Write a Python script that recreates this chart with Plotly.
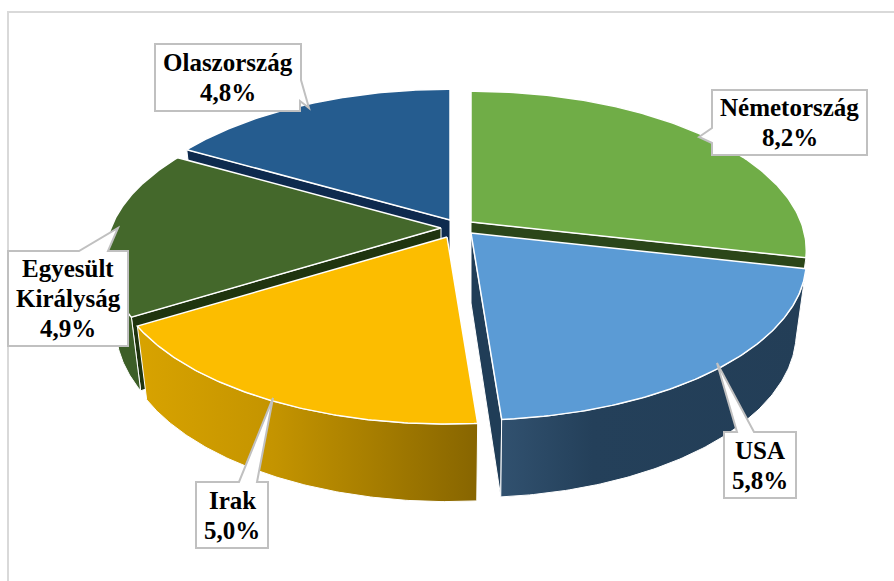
import numpy as np
import plotly.graph_objects as go

# --- data ---
countries = ["Németország", "USA", "Irak", "Egyesült Királyság", "Olaszország"]
shares = [8.2, 5.8, 5.0, 4.9, 4.8]

# --- styles ---
top_colors = ["#70ad47", "#5b9bd5", "#fcbd00", "#44682b", "#255c8f"]
wall_scales = [
    None,
    [[0, "#31516f"], [0.3, "#24405a"], [1, "#233e57"]],
    [[0, "#d8a300"], [0.4, "#c49400"], [0.7, "#a67d00"], [1, "#876500"]],
    [[0, "#3c5e27"], [1, "#3c5e27"]],
    None,
]
cut_colors = ["#2b4619", "#203d57", None, "#1f340f", "#0e2a4e"]
# which cut face is visible: 'end' / 'start' / None
cut_sides = ["end", "end", None, "start", "start"]
apex_x = [471, 471, 447, 441, 450]
apex_y = [222, 233, 237, 228, 220]
# which slices are painted in what order (back to front)
paint_order = [4, 0, 3, 2, 1]

# callout boxes: x0, y0, x1, y1, tip, wedge base
boxes = {
    0: dict(box=(712, 90, 867, 155), path="M712,90 H867 V155 H712 V143 L699,137 L712,128 Z"),
    1: dict(box=(724, 432, 796, 498), path="M724,432 H737 L717,363 L754,432 H796 V498 H724 Z"),
    2: dict(box=(196, 482, 268, 548), path="M196,482 H239 L273,398 L257,482 H268 V548 H196 Z"),
    3: dict(box=(8, 251, 128, 346), path="M8,251 H79 L118,228 L108,251 H128 V346 H8 Z"),
    4: dict(box=(155, 44, 301, 111), path="M155,44 H301 V80 L309,108 L300,101 V111 H155 Z"),
}

R, A, B = 330.0, 154.0, 0.177
WALL_X, WALL_Y, WALL_D = 0.97, 1.04, 70.0


def rim(theta, cx, cy, bottom=False):
    """Perspective projection of an angle (clockwise from 12 o'clock)."""
    u, v = np.sin(theta), -np.cos(theta)
    s = 1 / (1 - B * v)
    x, y = R * u * s, A * v * s
    if bottom:
        x, y = x * WALL_X, y * WALL_Y + WALL_D
    return cx + x, cy + y


total = sum(shares)
edges = np.concatenate([[0], np.cumsum(shares)]) / total * 2 * np.pi

fig = go.Figure()


def poly(xs, ys, color=None, line="#ffffff", lw=1.5, grad=None):
    kw = dict(
        x=list(xs) + [xs[0]], y=list(ys) + [ys[0]], mode="lines", fill="toself",
        line=dict(color=line, width=lw), hoverinfo="skip", showlegend=False,
    )
    if grad is not None:
        kw["fillgradient"] = dict(type="horizontal", colorscale=grad)
    else:
        kw["fillcolor"] = color
    fig.add_trace(go.Scatter(**kw))


for i in paint_order:
    a0, a1 = edges[i], edges[i + 1]
    cx, cy = apex_x[i], apex_y[i]
    t = np.linspace(a0, a1, 120)
    # cut face
    side = cut_sides[i]
    if side:
        a = a0 if side == "start" else a1
        rx, ry = rim(a, cx, cy)
        bx, by = rim(a, cx, cy, bottom=True)
        poly([cx, rx, bx, cx], [cy, ry, by, cy + WALL_D], cut_colors[i], lw=1)
    # outer wall (front half only)
    if wall_scales[i] is not None:
        wt = t[np.cos(t) < 0.25]
        tx, ty = rim(wt, cx, cy)
        bx, by = rim(wt[::-1], cx, cy, bottom=True)
        poly(np.concatenate([tx, bx]), np.concatenate([ty, by]), grad=wall_scales[i], lw=1)
    # top face
    tx, ty = rim(t, cx, cy)
    poly(np.concatenate([[cx], tx]), np.concatenate([[cy], ty]), top_colors[i])

shapes = [
    dict(type="path", path="M8,581 V12 H894", line=dict(color="#d9d9d9", width=2), layer="below"),
]
annotations = []
font = dict(family="Liberation Serif", size=25, color="#000000")
for i, name in enumerate(countries):
    spec = boxes[i]
    shapes.append(dict(type="path", path=spec["path"], fillcolor="#ffffff",
                       line=dict(color="#c0c0c0", width=2), layer="above"))
    lines = name.split(" ") + [f"{shares[i]:.1f}".replace(".", ",") + "%"]
    x0, y0, x1, y1 = spec["box"]
    xc, yc = (x0 + x1) / 2, (y0 + y1) / 2
    for k, text in enumerate(lines):
        annotations.append(dict(
            x=xc, y=yc + (k - (len(lines) - 1) / 2) * 30, text=f"<b>{text}</b>", showarrow=False,
            font=font, xanchor="center", yanchor="middle",
        ))

fig.update_layout(
    width=894, height=581, margin=dict(l=0, r=0, t=0, b=0),
    paper_bgcolor="#ffffff", plot_bgcolor="#ffffff", showlegend=False,
    xaxis=dict(range=[0, 894], visible=False, fixedrange=True),
    yaxis=dict(range=[581, 0], visible=False, fixedrange=True),
    shapes=shapes, annotations=annotations,
)
fig.write_html("out.html", config={"displayModeBar": False},
               post_script="document.body.style.margin='0';")
